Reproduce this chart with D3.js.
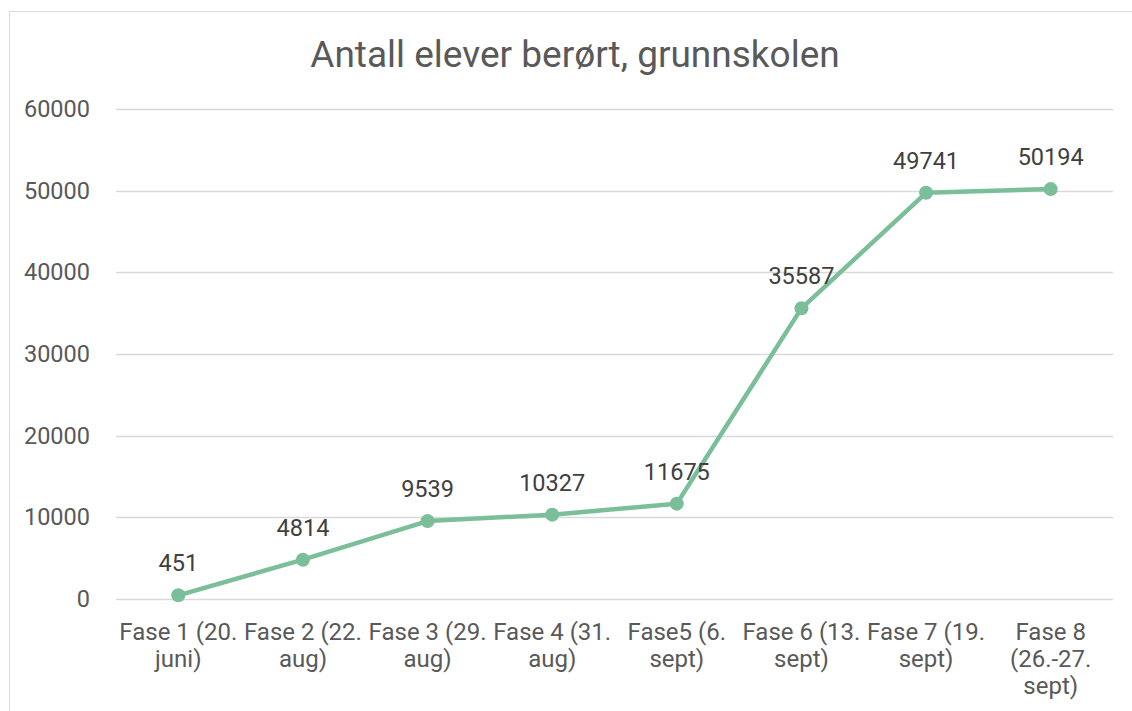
<!DOCTYPE html>
<html lang="no">
<head>
<meta charset="utf-8">
<title>Antall elever berørt, grunnskolen</title>
<script src="https://cdn.jsdelivr.net/npm/d3@7"></script>
<style>
  body { margin: 0; background: #fff; overflow: hidden; }
  svg { display: block; font-family: Roboto, "Open Sans", sans-serif; }
</style>
</head>
<body>
<svg id="chart" width="1132" height="711"></svg>
<script>
var categories = [
  'Fase 1 (20. juni)',
  'Fase 2 (22. aug)',
  'Fase 3 (29. aug)',
  'Fase 4 (31. aug)',
  'Fase5 (6. sept)',
  'Fase 6 (13. sept)',
  'Fase 7 (19. sept)',
  'Fase 8 (26.-27. sept)'
];
var values = [451, 4814, 9539, 10327, 11675, 35587, 49741, 50194];
var yTicks = [0, 10000, 20000, 30000, 40000, 50000, 60000];

var svg = d3.select('#chart');
var mLeft = 116, mRight = 1113, mTop = 109, mBottom = 599;

// chart frame
svg.append('rect')
  .attr('x', 9.5).attr('y', 11.5)
  .attr('width', 1140).attr('height', 720)
  .attr('fill', '#fff').attr('stroke', '#d9d9d9').attr('stroke-width', 1);

svg.append('text')
  .attr('x', 575).attr('y', 67)
  .attr('text-anchor', 'middle')
  .attr('font-size', 37)
  .attr('fill', '#595959')
  .text('Antall elever berørt, grunnskolen');

var x = d3.scaleBand().domain(categories).range([mLeft, mRight]);
var y = d3.scaleLinear().domain([0, 60000]).range([mBottom, mTop]);

// gridlines
svg.append('g').selectAll('line').data(yTicks).join('line')
  .attr('x1', mLeft).attr('x2', mRight)
  .attr('y1', d => Math.round(y(d)) + 0.5).attr('y2', d => Math.round(y(d)) + 0.5)
  .attr('stroke', '#d9d9d9').attr('stroke-width', 1.5);

var yAxis = svg.append('g')
  .attr('transform', 'translate(' + (mLeft - 23) + ',0)')
  .call(d3.axisLeft(y).tickValues(yTicks).tickFormat(d3.format('d')).tickSize(0));
yAxis.select('.domain').remove();
yAxis.selectAll('text').attr('font-size', 23.5).attr('fill', '#595959').attr('font-family', 'Roboto, sans-serif');

var xAxis = svg.append('g')
  .attr('transform', 'translate(0,' + (mBottom + 21) + ')')
  .call(d3.axisBottom(x).tickSize(0));
xAxis.select('.domain').remove();
xAxis.selectAll('text')
  .attr('font-size', 24).attr('fill', '#595959').attr('font-family', 'Roboto, sans-serif')
  .call(wrap, x.bandwidth() - 2);

function wrap(sel, width) {
  sel.each(function() {
    var t = d3.select(this), words = t.text().split(/\s+/), line = [];
    t.text(null);
    var tspan = t.append('tspan').attr('x', 0).attr('dy', '0.71em');
    words.forEach(function(w) {
      line.push(w);
      tspan.text(line.join(' '));
      if (tspan.node().getComputedTextLength() > width && line.length > 1) {
        line.pop();
        tspan.text(line.join(' '));
        line = [w];
        tspan = t.append('tspan').attr('x', 0).attr('dy', '1.13em').text(w);
      }
    });
  });
}

var pts = categories.map((c, i) => ({ c: c, v: values[i] }));
var line = d3.line().x(d => x(d.c) + x.bandwidth() / 2).y(d => y(d.v));

svg.append('path').datum(pts)
  .attr('d', line)
  .attr('fill', 'none')
  .attr('stroke', '#7bbf9a')
  .attr('stroke-width', 4.5)
  .attr('stroke-linejoin', 'round');

svg.append('g').selectAll('circle').data(pts).join('circle')
  .attr('cx', d => x(d.c) + x.bandwidth() / 2)
  .attr('cy', d => y(d.v))
  .attr('r', 7)
  .attr('fill', '#7bbf9a');

svg.append('g').selectAll('text').data(pts).join('text')
  .attr('x', d => x(d.c) + x.bandwidth() / 2)
  .attr('y', d => y(d.v) - 24)
  .attr('text-anchor', 'middle')
  .attr('font-size', 23.5)
  .attr('fill', '#404040')
  .text(d => d.v);
</script>
</body>
</html>
